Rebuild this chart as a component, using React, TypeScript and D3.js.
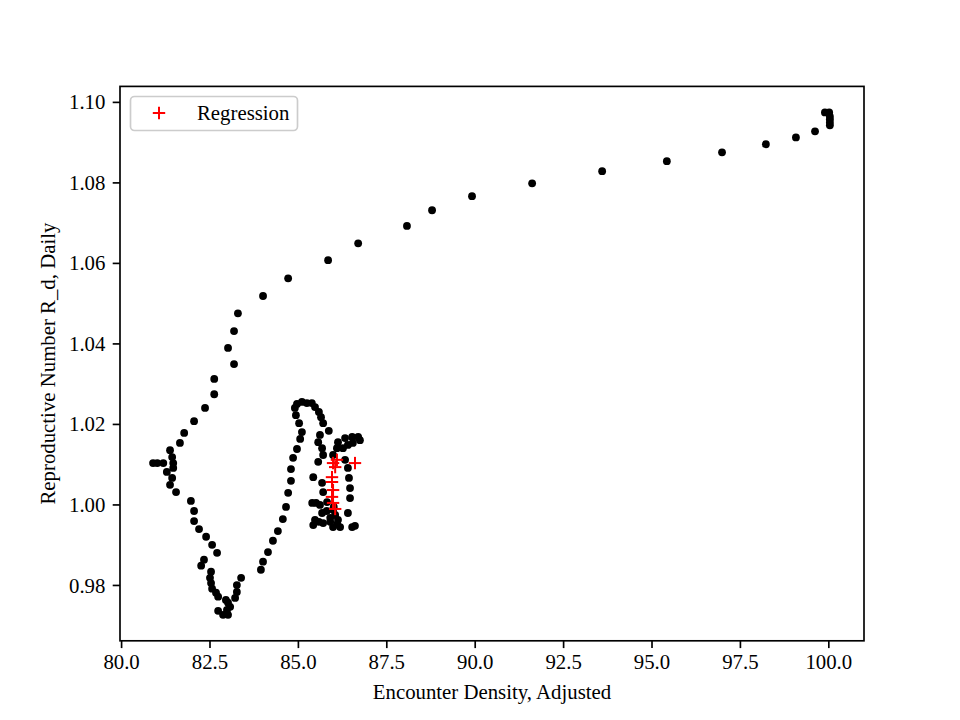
import React from "react";
import * as d3 from "d3";

const traceX = [
  99.89, 100.01, 100.03, 100.03, 100.03, 100.03, 99.61, 99.07, 98.22, 96.98, 95.42, 93.59, 91.61, 89.91, 88.78, 88.07,
  86.69, 85.84, 84.71, 84.0, 83.29, 83.18, 83.01, 83.18, 82.62, 82.62, 82.36, 82.05, 81.77, 81.65, 81.37, 81.43,
  81.46, 81.18, 81.01, 80.89, 81.46, 81.28, 81.43, 81.37, 81.54, 81.96, 82.05, 82.05, 82.19, 82.39, 82.56, 82.7,
  82.33, 82.25, 82.53, 82.5, 82.53, 82.56, 82.67, 82.73, 82.95, 83.01, 83.07, 82.98, 82.73, 82.87, 83.01, 83.21,
  83.26, 83.26, 83.38, 83.94, 84.0, 84.14, 84.28, 84.42, 84.56, 84.65, 84.71, 84.79, 84.79, 84.85, 84.96, 85.05,
  85.1, 85.02, 84.93, 84.9, 84.96, 85.1, 85.24, 85.38, 85.47, 85.58, 85.64, 85.7, 85.86, 85.61, 85.56, 85.67,
  85.7, 85.56, 85.42, 85.67, 85.7, 85.39, 85.61, 85.81, 85.67, 85.47, 85.42, 85.7, 85.9, 85.98, 86.18, 86.52,
  86.6, 86.04, 85.98, 86.12, 86.4, 86.46, 86.46, 86.43, 86.4, 86.32, 85.98, 86.09, 86.26, 86.4, 86.54, 86.12,
  86.32, 86.52, 86.69, 86.74, 85.5, 85.58, 85.9, 86.1, 86.0, 85.8,
];
const traceY = [
  1.0975, 1.0975, 1.0965, 1.0958, 1.095, 1.0943, 1.0928, 1.0913, 1.0896, 1.0876, 1.0854, 1.0829, 1.0799, 1.0767, 1.0732, 1.0693,
  1.065, 1.0608, 1.0563, 1.0519, 1.0476, 1.0432, 1.039, 1.035, 1.0313, 1.0275, 1.0241, 1.0208, 1.0179, 1.0154, 1.0136, 1.0119,
  1.0104, 1.0104, 1.0104, 1.0104, 1.0092, 1.0082, 1.0067, 1.005, 1.0032, 1.001, 0.9985, 0.996, 0.994, 0.9921, 0.9901, 0.9881,
  0.9864, 0.9849, 0.9834, 0.9819, 0.9806, 0.9792, 0.9782, 0.9772, 0.9764, 0.9757, 0.9747, 0.9739, 0.9737, 0.9727, 0.9727, 0.9769,
  0.9784, 0.9801, 0.9819, 0.9839, 0.9859, 0.9883, 0.9911, 0.9935, 0.9965, 0.9995, 1.003, 1.006, 1.0089, 1.0117, 1.0139, 1.0164,
  1.0181, 1.0203, 1.0223, 1.0241, 1.0251, 1.0256, 1.0253, 1.0253, 1.0243, 1.0231, 1.0218, 1.0203, 1.0184, 1.0174, 1.0156, 1.0141,
  1.0124, 1.0107, 1.0069, 1.0055, 1.0032, 1.0005, 1.0, 1.0007, 0.998, 0.9963, 0.995, 0.9955, 0.9958, 0.9945, 0.9945, 0.9945,
  0.9948, 0.9975, 0.9988, 0.9963, 0.998, 1.0017, 1.0042, 1.0067, 1.0092, 1.0112, 1.0124, 1.0141, 1.0141, 1.0149, 1.0154, 1.0156,
  1.0166, 1.0169, 1.0169, 1.0161, 1.0005, 0.9958, 0.9968, 0.9952, 0.9995, 0.9985,
];

const regressionX = [86.09, 85.98, 86.04, 85.95, 85.95, 85.98, 85.95, 85.98, 86.04, 86.6];
const regressionY = [1.0112, 1.0104, 1.0094, 1.0069, 1.0057, 1.0037, 1.002, 1.0005, 0.999, 1.0104];

const xTicks = [80.0, 82.5, 85.0, 87.5, 90.0, 92.5, 95.0, 97.5, 100.0];
const yTicks = [0.98, 1.0, 1.02, 1.04, 1.06, 1.08, 1.1];

const W = 960;
const H = 720;
const L = 120;
const R = 864;
const T = 86.4;
const B = 640.8;
const FONT = "'Liberation Serif', 'Times New Roman', serif";
const FS = 20.8;
const TICK = 7.3;

export default function App() {
  const x = d3.scaleLinear().domain([79.955, 100.995]).range([L, R]);
  const y = d3.scaleLinear().domain([0.96625, 1.10397]).range([B, T]);
  const plus = 6.2;
  return (
    <div style={{ position: "fixed", left: 0, top: 0 }}>
      <svg width={W} height={H} style={{ display: "block", background: "#fff" }}>
        <rect x={0} y={0} width={W} height={H} fill="#fff" />
        <g>
          {traceX.map((v, i) => (
            <circle key={"k" + i} cx={x(v)} cy={y(traceY[i])} r={3.9} fill="#000" />
          ))}
        </g>
        <g stroke="#ff0000" strokeWidth={2}>
          {regressionX.map((v, i) => {
            const cx = x(v);
            const cy = y(regressionY[i]);
            return (
              <g key={"r" + i}>
                <line x1={cx - plus} x2={cx + plus} y1={cy} y2={cy} />
                <line x1={cx} x2={cx} y1={cy - plus} y2={cy + plus} />
              </g>
            );
          })}
        </g>
        <rect x={L} y={T} width={R - L} height={B - T} fill="none" stroke="#000" strokeWidth={1.67} />
        <g fontFamily={FONT} fontSize={FS} fill="#000">
          {xTicks.map((t) => (
            <g key={"x" + t}>
              <line x1={x(t)} x2={x(t)} y1={B} y2={B + TICK} stroke="#000" strokeWidth={1.67} />
              <text x={x(t)} y={B + 28} textAnchor="middle">
                {t.toFixed(1)}
              </text>
            </g>
          ))}
          {yTicks.map((t) => (
            <g key={"y" + t}>
              <line x1={L - TICK} x2={L} y1={y(t)} y2={y(t)} stroke="#000" strokeWidth={1.67} />
              <text x={L - TICK - 7.3} y={y(t)} dy="0.34em" textAnchor="end">
                {t.toFixed(2)}
              </text>
            </g>
          ))}
          <text x={(L + R) / 2} y={699} textAnchor="middle">
            Encounter Density, Adjusted
          </text>
          <text transform={`translate(55, ${(T + B) / 2}) rotate(-90)`} textAnchor="middle">
            Reproductive Number R_d, Daily
          </text>
        </g>
        <g>
          <rect x={130.5} y={96.5} width={167} height={34} rx={4} fill="#fff" fillOpacity={0.8} stroke="#cccccc" strokeWidth={1.67} />
          <g stroke="#ff0000" strokeWidth={2}>
            <line x1={159 - plus} x2={159 + plus} y1={113} y2={113} />
            <line x1={159} x2={159} y1={113 - plus} y2={113 + plus} />
          </g>
          <text x={197} y={113} dy="0.34em" fontFamily={FONT} fontSize={FS} fill="#000">
            Regression
          </text>
        </g>
      </svg>
    </div>
  );
}
